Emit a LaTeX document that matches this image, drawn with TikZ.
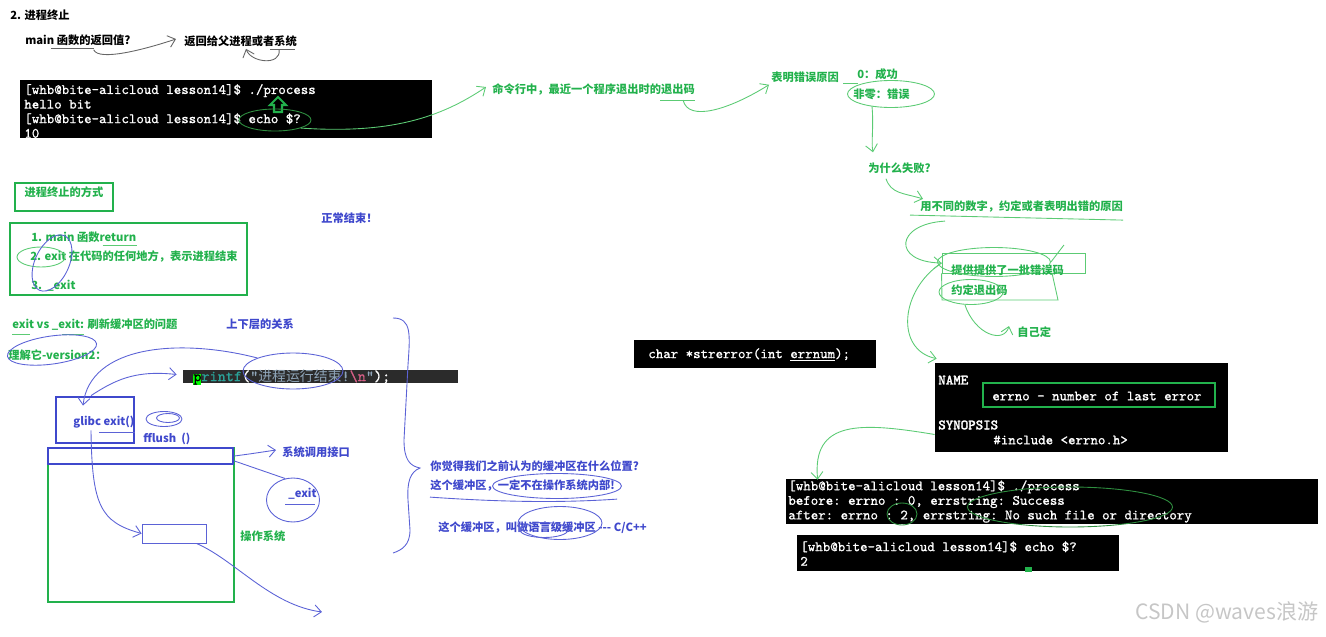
\documentclass[tikz,border=0pt]{standalone}
\usepackage{fontspec}
\setmainfont{Noto Sans CJK SC}
\setmonofont{lmmono10-regular.otf}[FakeBold=0.8]
\newfontfamily\ttheavy{lmmono10-regular.otf}[FakeBold=2.2]
\usepackage{tikz}
\usetikzlibrary{arrows.meta,positioning,fit,calc,shapes.geometric}
\definecolor{pengreen}{HTML}{22B14C}
\definecolor{penblue}{HTML}{3F48CC}
\definecolor{inkgreen}{HTML}{5CCB74}
\definecolor{darkink}{HTML}{2F8F40}
\definecolor{inkblue}{HTML}{5B62D6}
\definecolor{codebg}{HTML}{2B2B2B}
\definecolor{codeteal}{HTML}{2AA198}
\definecolor{codestr}{HTML}{8EA4B8}
\definecolor{codered}{HTML}{D75F87}

\begin{document}
\begin{tikzpicture}[x=0.02cm, y=-0.02cm,
    every node/.style={inner sep=0pt, anchor=west, font=\fontsize{6.4}{7.5}\selectfont\bfseries},
    gtext/.style={text=pengreen},
    btext/.style={text=penblue},
    ktext/.style={text=black},
    shell/.style={fill=black, draw=none, anchor=center},
    tty/.style={text=white, font=\ttfamily\fontsize{8.1}{8.3}\selectfont, align=left},
    ttyhead/.style={tty, font=\ttheavy\fontsize{8.1}{8.3}\selectfont},
    gbox/.style={draw=pengreen, line width=1.6pt, anchor=center},
    bbox/.style={draw=penblue, line width=1.6pt, anchor=center},
    sketch/.style={draw=black!60, line width=0.5pt},
    gink/.style={draw=inkgreen, line width=0.5pt},
    bink/.style={draw=inkblue, line width=0.5pt},
    ringmark/.style={ellipse, anchor=center},
    barb/.style={-{Straight Barb[length=1.4mm, width=2.4mm]}}]
  \useasboundingbox (0,0) rectangle (1326,636);

  % return value of main
  \node[ktext] (title) at (10,15) {2. 进程终止};
  \node[ktext] (mainq) at (25,40) {main 函数的返回值?};
  \node[ktext] (retp) at (184,41) {返回给父进程或者系统};
  \draw[sketch] ($(mainq.south east)+(-80,3)$) -- ++(43,0);
  \draw[sketch, barb] ($(mainq.south east)+(-37,4)$) .. controls +(5,12) and +(-30,10) .. ($(retp.west)+(-8,-2)$);
  \draw[sketch] ($(retp.south east)+(-27,3)$) -- ++(25,0);
  \draw[sketch, barb] ($(retp.south east)+(-18,3)$) .. controls +(2,16) and +(5,14) .. ($(retp.south west)+(62,2)$);

  % first shell
  \node[shell, fit={(20,80) (432,138)}] (t1) {};
  \node[tty] (t1txt) at (24,111) {{[}whb@bite-alicloud lesson14{]}\$ ./process\\hello bit\\{[}whb@bite-alicloud lesson14{]}\$ echo \$?\\10};
  \draw[draw=pengreen, line width=1.2pt, fill=black] (278,97) -- (286,105) -- (282,105) -- (282,112) -- (274,112) -- (274,105) -- (270,105) -- cycle;
  \node[ringmark, draw=darkink, line width=0.5pt, minimum width=1.44cm, minimum height=0.44cm] (e1) at (275,120) {};

  % exit code chain
  \node[gtext] (cmd) at (492,89) {命令行中，最近一个程序退出时的退出码};
  \draw[gink, barb] (e1.south east) .. controls (390,134) and (440,118) .. ($(cmd.west)+(-6,-2)$);
  \draw[gink] ($(cmd.south east)+(-35,5)$) -- ++(35,0);
  \node[gtext] (reason) at (771,77) {表明错误原因};
  \draw[gink, barb] ($(cmd.south east)+(-12,5)$) .. controls +(5,22) and +(-40,25) .. ($(reason.south west)+(-2,2)$);
  \node[gtext] (ok0) at (857,74) {0：成功};
  \node[gtext] (nz) at (853,94) {非零：错误};
  \draw[gink] ($(ok0.south west)+(-14,4)$) -- ++(15,0);
  \node[ringmark, gink, minimum width=1.74cm, minimum height=0.54cm] (e2) at (891,94) {};
  \node[gtext] (why) at (868,168) {为什么失败?};
  \draw[gink, barb] ($(e2.south west)+(12,2)$) .. controls +(2,20) and +(-2,-10) .. ($(why.north west)+(5,-10)$);
  \node[gtext] (diff) at (920,206) {用不同的数字，约定或者表明出错的原因};
  \draw[gink, barb] ($(why.south west)+(18,5)$) .. controls +(5,15) and +(-20,-6) .. ($(diff.north west)+(3,-1)$);
  \draw[gink] ($(diff.south west)+(-10,3)$) -- ($(diff.south east)+(0,8)$);

  % man page
  \node[shell, fit={(935,363) (1228,452)}] (man) {};
  \node[ttyhead] (nm) at (938,380) {NAME};
  \node[gbox, fit={(983,383) (1215,407)}] (errb) {};
  \node[tty] (errt) at (992,396) {errno - number of last error};
  \node[ttyhead] (syn) at (938,425) {SYNOPSIS};
  \node[tty] (inc) at (993,440) {\#include <errno.h>};

  % error codes
  \node[gink, fit={(942,253) (1085,273)}, anchor=center] (pbox) {};
  \draw[gink] (pbox.south west) -- (942,300) -- (1058,300) -- (1052,273);
  \node[gtext] (prov) at (951,270) {提供提供了一批错误码};
  \node[gtext] (self) at (951,290) {约定退出码};
  \node[gtext] (mine) at (1017,332) {自己定};
  \node[ringmark, gink, minimum width=2.26cm, minimum height=0.58cm] (e3) at (994,262) {};
  \node[ringmark, gink, minimum width=1.28cm, minimum height=0.5cm] (e4) at (971,292) {};
  \draw[gink] (e3.east) -- ++(13,-17);
  \draw[gink, barb] ($(diff.south west)+(25,9)$) .. controls (895,224) and (892,262) .. (pbox.west);
  \draw[gink, barb] ($(e4.south)+(-6,0)$) .. controls +(10,30) and +(-5,18) .. ($(mine.west)+(-8,-6)$);
  \draw[gink, barb] (pbox.west) .. controls (900,290) and (895,350) .. ($(man.north west)+(2,-4)$);

  % second and third shell
  \node[shell, fit={(786,479) (1318,524)}] (t2) {};
  \node[tty] (t2txt) at (788,501.5) {{[}whb@bite-alicloud lesson14{]}\$ ./process\\before: errno : 0, errstring: Success\\after: errno : 2, errstring: No such file or directory};
  \draw[gink, barb] ($(man.west)+(0,27)$) .. controls (860,422) and (812,420) .. ($(t2.north west)+(32,1)$);
  \node[ringmark, draw=darkink, line width=0.5pt, minimum width=0.6cm, minimum height=0.44cm] (e5) at (902,514) {};
  \node[ringmark, draw=darkink, line width=0.5pt, minimum width=4.1cm, minimum height=0.8cm] (e6) at (1070,507) {};
  \node[shell, fit={(797,535) (1119,571)}] (t3) {};
  \node[tty] (t3txt) at (800,553.5) {{[}whb@bite-alicloud lesson14{]}\$ echo \$?\\2};
  \fill[pengreen] (1025,567) rectangle (1032,572);

  \node[shell, fit={(634,340) (876,368)}] (se) {};
  \node[tty] (set) at (648,355) {char *strerror(int \underline{errnum});};

  % ways to terminate
  \node[gbox, gtext, fit={(15,183) (113,211)}] (ways) {进程终止的方式};
  \node[gbox, fit={(10,223) (247,295)}] (list) {};
  \node[gtext] (m1) at (31,237) {1. main 函数return};
  \node[gtext] (m2) at (30,256) {2. exit 在代码的任何地方，表示进程结束};
  \node[gtext] (m3) at (31,286) {3.\ \ \_exit};
  \draw[gink] ($(m1.south east)+(-34,3)$) -- ++(34,0);
  \node[ringmark, gink, minimum width=0.96cm, minimum height=0.4cm] (e7) at (41,257) {};
  \draw[bink, rotate around={-25:(52,263)}] (52,263) ellipse (17 and 30);
  \node[btext] (normal) at (321,218) {正常结束！};

  \node[gtext] (vs) at (12,325) {exit vs \_exit: 刷新缓冲区的问题};
  \draw[gink] ($(vs.south west)+(0,3)$) -- ++(18,0);
  \draw[gink] ($(vs.south west)+(50,3)$) -- ++(22,0);
  \node[btext] (layer) at (226,324) {上下层的关系};
  \node[gtext] (ver) at (8,355) {理解它-version2：};
  \node[ringmark, bink, rotate=8, minimum width=1.8cm, minimum height=0.56cm] (e8) at (52,350) {};

  % code line
  \node[fill=codebg, fit={(183,370) (458,383)}, anchor=center] (pf) {};
  \node[font=\ttfamily\fontsize{8.8}{9}\selectfont] (pft) at (193,377) {{\setlength\fboxsep{0pt}\colorbox{green}{\textcolor{black}{p}}}\textcolor{codeteal}{rintf}\textcolor{white!85}{(}\textcolor{codestr}{"{\rmfamily\mdseries\fontsize{7.9}{9}\selectfont 进程运行结束}!}\textcolor{codered}{\textbackslash n}\textcolor{codestr}{"}\textcolor{white!85}{);}};
  \node[ringmark, bink, minimum width=2cm, minimum height=0.72cm] (e9) at (293,371) {};

  % glibc and OS
  \node[bbox, fit={(56,397) (134,443)}] (glibc) {};
  \node[btext] (glt) at (73,422) {glibc exit()};
  \draw[bink] ($(glt.south east)+(-36,4)$) -- ++(36,0);
  \node[btext] (ffl) at (143,439) {fflush\ \ ()};
  \node[ringmark, bink, minimum width=0.72cm, minimum height=0.3cm] (d1) at (164,419) {};
  \node[ringmark, bink, minimum width=0.46cm, minimum height=0.18cm] (d2) at (168,418) {};
  \node[gbox, fit={(48,448) (234,602)}] (os) {};
  \node[bbox, fit={(48,448) (233,464)}] (sysc) {};
  \node[btext] (scl) at (282,452) {系统调用接口};
  \node[btext] (ex) at (288,494) {\_exit};
  \draw[bink] ($(ex.south west)+(-3,4)$) -- ++(30,0);
  \node[ringmark, bink, minimum width=1.06cm, minimum height=0.88cm] (e10) at (293,500) {};
  \node[gtext] (ost) at (240,536) {操作系统};
  \node[bink, fit={(142,524) (206,543)}, anchor=center] (buf) {};
  \coordinate (sink) at (322,612);

  \draw[bink, barb] (sysc.east) .. controls +(15,-2) .. ($(scl.west)+(-6,-2)$);
  \draw[bink] ($(sysc.east)+(0,5)$) -- (e10.110);
  \draw[bink, barb] ($(glt.south west)+(18,2)$) .. controls (92,505) and (100,522) .. (buf.west);
  \draw[bink, barb] ($(buf.south east)+(-10,0)$) .. controls (235,560) and (270,605) .. (sink);
  \draw[bink, barb] ($(glibc.north)+(-4,0)$) .. controls (115,380) and (135,370) .. ($(pf.west)+(-6,-2)$);
  \draw[bink, barb] (e9.north west) .. controls (180,338) and (90,345) .. ($(glt.north west)+(10,-10)$);

  % buffer question
  \draw[bink] (393,318) .. controls (412,318) and (410,335) .. (408,365) -- (404,440) .. controls (404,460) and (410,466) .. (420,468) .. controls (410,472) and (407,482) .. (408,500) -- (410,530) .. controls (410,545) and (402,550) .. (393,553);
  \node[btext] (q1) at (430,466) {你觉得我们之前认为的缓冲区在什么位置?};
  \node[btext] (q2) at (430,485) {这个缓冲区，一定不在操作系统内部!};
  \node[btext] (q3) at (438,528) {这个缓冲区，叫做语言级缓冲区 {-}{-}{-} C/C++};
  \node[ringmark, bink, minimum width=2.58cm, minimum height=0.5cm] (e11) at (557,486) {};
  \draw[bink] ($(q2.south west)+(0,6)$) .. controls (500,502) and (560,503) .. ($(q2.south east)+(2,8)$);
  \node[ringmark, bink, minimum width=1.68cm, minimum height=0.66cm] (e12) at (560,523) {};
  \node[ringmark, bink, minimum width=0.96cm, minimum height=0.3cm] (e13) at (544,530) {};

  \node[text=gray!45, font=\fontsize{12}{14}\selectfont] (mark) at (1135,612) {CSDN @waves浪游};
\end{tikzpicture}
\end{document}
